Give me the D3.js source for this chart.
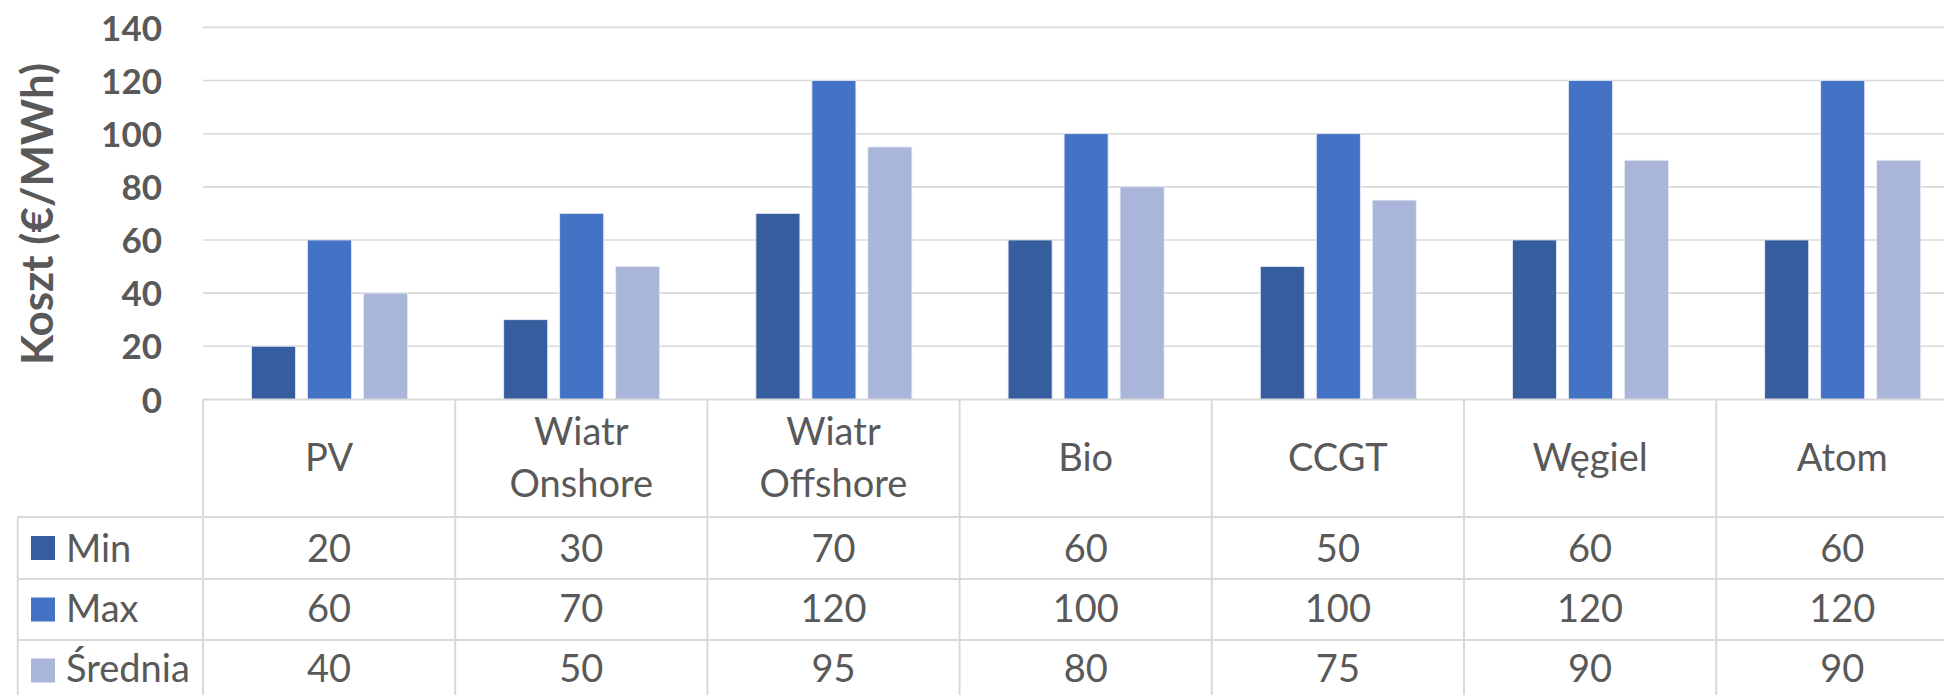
<!DOCTYPE html>
<html>
<head>
<meta charset="utf-8">
<script src="https://cdn.jsdelivr.net/npm/d3@7"></script>
<style>
  html, body { margin: 0; padding: 0; background: #fff; overflow: hidden; }
  svg { display: block; }
</style>
</head>
<body>
<svg id="chart" width="1944" height="695"></svg>
<script>
// ---- data ----
const categories = [["PV"], ["Wiatr", "Onshore"], ["Wiatr", "Offshore"], ["Bio"], ["CCGT"], ["Węgiel"], ["Atom"]];
const seriesNames = ["Min", "Max", "Średnia"];
const minValues = [20, 30, 70, 60, 50, 60, 60];
const maxValues = [60, 70, 120, 100, 100, 120, 120];
const avgValues = [40, 50, 95, 80, 75, 90, 90];
const yTicks = [0, 20, 40, 60, 80, 100, 120, 140];
const yLabel = "Koszt (€/MWh)";
const colors = ["#365E9F", "#4472C4", "#A9B6D9"];

const series = [minValues, maxValues, avgValues];

// ---- layout ----
const svg = d3.select("#chart");
const plotLeft = 203, plotRight = 203 + 7 * 252.2;
const plotTop = 27.4, plotBottom = 399.4;
const legendLeft = 17.7;
const rowLines = [399.4, 517, 579, 640, 701];
const textColor = "#595959";
const gridColor = "#D9D9D9";
const font = "Lato, 'Open Sans', sans-serif";

const x = d3.scaleBand().domain(d3.range(categories.length)).range([plotLeft, plotRight]).padding(0);
const xInner = d3.scaleBand().domain(d3.range(series.length)).range([48.5, 204.5]).paddingInner(12 / 56).paddingOuter(0);
const y = d3.scaleLinear().domain([0, 140]).range([plotBottom, plotTop]);

// gridlines
svg.append("g").selectAll("line").data(yTicks.filter(d => d > 0)).join("line")
  .attr("x1", plotLeft).attr("x2", 1944)
  .attr("y1", d => y(d)).attr("y2", d => y(d))
  .attr("stroke", gridColor).attr("stroke-width", 1.6);

// bars
const gBars = svg.append("g");
series.forEach((vals, si) => {
  gBars.selectAll(null).data(vals).join("rect")
    .attr("x", (d, i) => x(i) + xInner(si))
    .attr("width", xInner.bandwidth())
    .attr("y", d => y(d))
    .attr("height", d => y(0) - y(d))
    .attr("fill", colors[si])
    .attr("stroke", "#E8ECF5").attr("stroke-width", 0.8);
});

// y axis ticks (labels only)
const yAxis = d3.axisLeft(y).tickValues(yTicks).tickSize(0).tickPadding(0);
const gy = svg.append("g").attr("transform", `translate(162,0)`).call(yAxis);
gy.select(".domain").remove();
gy.selectAll("text")
  .attr("font-family", font).attr("font-weight", "bold").attr("font-size", 35)
  .attr("fill", textColor).attr("dy", "0.36em");

// y label
svg.append("text")
  .attr("transform", `translate(53,214) rotate(-90)`)
  .attr("text-anchor", "middle")
  .attr("font-family", font).attr("font-weight", "bold").attr("font-size", 44)
  .attr("fill", textColor)
  .text(yLabel);

// ---- data table ----
const gT = svg.append("g").attr("stroke", gridColor).attr("stroke-width", 2);
gT.append("line").attr("x1", plotLeft).attr("x2", 1944).attr("y1", rowLines[0]).attr("y2", rowLines[0]);
rowLines.slice(1, 4).forEach(yy => {
  gT.append("line").attr("x1", legendLeft).attr("x2", 1944).attr("y1", yy).attr("y2", yy);
});
d3.range(categories.length + 1).forEach(i => {
  const xx = plotLeft + i * x.step();
  gT.append("line").attr("x1", xx).attr("x2", xx).attr("y1", rowLines[0]).attr("y2", 695);
});
gT.append("line").attr("x1", legendLeft).attr("x2", legendLeft).attr("y1", rowLines[1]).attr("y2", 695);

// category header labels
const gCat = svg.append("g").attr("font-family", font).attr("font-size", 38).attr("fill", textColor).attr("text-anchor", "middle");
categories.forEach((lines, i) => {
  const cx = x(i) + x.bandwidth() / 2;
  const t = gCat.append("text").attr("x", cx);
  if (lines.length === 1) {
    t.attr("y", 470.5).text(lines[0]);
  } else {
    t.append("tspan").attr("x", cx).attr("y", 445).text(lines[0]);
    t.append("tspan").attr("x", cx).attr("y", 497).text(lines[1]);
  }
});

// value rows
const rowBaselines = [561.5, 621.5, 681.5];
const gVals = svg.append("g").attr("font-family", font).attr("font-size", 38).attr("fill", textColor);
series.forEach((vals, si) => {
  gVals.selectAll(null).data(vals).join("text")
    .attr("x", (d, i) => x(i) + x.bandwidth() / 2)
    .attr("y", rowBaselines[si])
    .attr("text-anchor", "middle")
    .text(d => d);
  const rowMid = (rowLines[si + 1] + rowLines[si + 2]) / 2;
  gVals.append("rect").attr("x", 31).attr("y", rowMid - 12).attr("width", 24).attr("height", 24).attr("fill", colors[si]);
  gVals.append("text").attr("x", 66).attr("y", rowBaselines[si]).text(seriesNames[si]);
});
</script>
</body>
</html>
